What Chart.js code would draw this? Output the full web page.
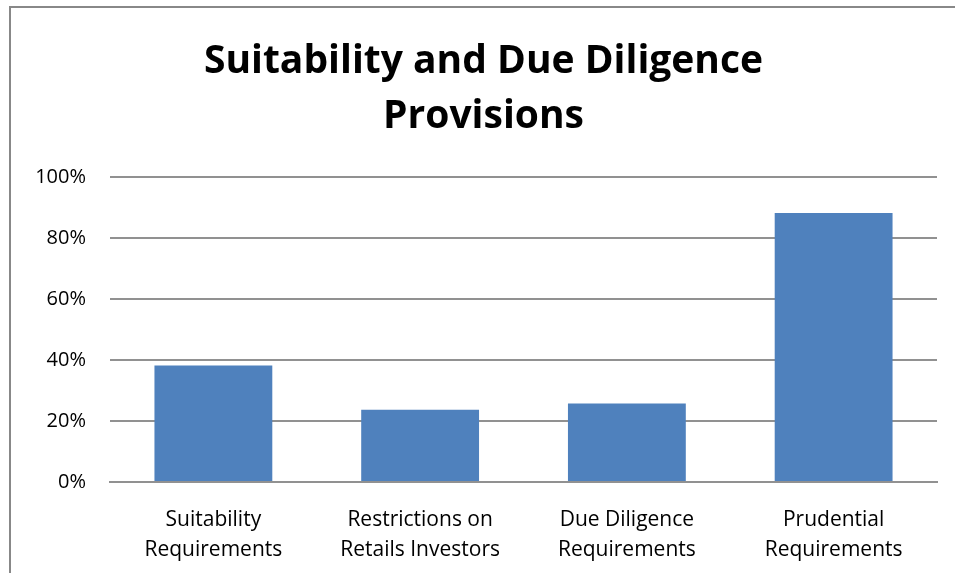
<!DOCTYPE html>
<html lang="en">
<head>
  <meta charset="UTF-8">
  <title>Suitability and Due Diligence Provisions</title>
  <script src="https://cdn.jsdelivr.net/npm/chart.js"></script>
  <style>
    html, body {
      margin: 0;
      padding: 0;
      background: #fff;
      overflow: hidden;
    }
    #wrap {
      position: relative;
      width: 955px;
      height: 573px;
    }
    #frame {
      position: absolute;
      left: 9px;
      top: 6px;
      width: 960px;
      height: 600px;
      border-left: 2px solid #888;
      border-top: 2px solid #888;
      pointer-events: none;
    }
  </style>
</head>
<body>
  <div id="wrap">
    <canvas id="chart" width="955" height="573"></canvas>
    <div id="frame"></div>
  </div>

  <script>
    const categories = [
      ["Suitability", "Requirements"],
      ["Restrictions on", "Retails Investors"],
      ["Due Diligence", "Requirements"],
      ["Prudential", "Requirements"]
    ];
    const shares = [38.2, 23.7, 25.7, 88.2];
    const yTicks = [0, 20, 40, 60, 80, 100];

    const font = "'Open Sans', Lato, sans-serif";

    const ctx = document.getElementById("chart").getContext("2d");
    new Chart(ctx, {
      type: 'bar',
      data: {
        labels: categories,
        datasets: [{
          data: shares,
          backgroundColor: '#4f81bd',
          borderWidth: 0,
          barPercentage: 0.57,
          categoryPercentage: 1
        }]
      },
      options: {
        responsive: false,
        animation: false,
        layout: {
          padding: { left: 30, right: 18, top: 34, bottom: -15 }
        },
        plugins: {
          legend: { display: false },
          tooltip: { enabled: false },
          title: {
            display: true,
            text: ["Suitability and Due Diligence", "Provisions"],
            color: '#000',
            font: { family: font, size: 39, weight: 'bold', lineHeight: 1.41 },
            padding: { top: 0, bottom: 33 }
          }
        },
        scales: {
          x: {
            grid: { display: false, drawTicks: false },
            border: { color: '#919191', width: 2 },
            ticks: {
              color: '#000',
              font: { family: font, size: 21, lineHeight: 1.43 },
              padding: 23,
              maxRotation: 0,
              autoSkip: false
            }
          },
          y: {
            min: 0,
            max: 100,
            afterFit: (scale) => { scale.width = 80; },
            afterBuildTicks: (scale) => {
              scale.ticks = yTicks.map(v => ({ value: v }));
            },
            grid: { color: '#919191', lineWidth: 2, drawTicks: false },
            border: { display: false },
            ticks: {
              color: '#000',
              font: { family: font, size: 20 },
              padding: 24,
              callback: (v) => v + '%'
            }
          }
        }
      }
    });
  </script>
</body>
</html>
